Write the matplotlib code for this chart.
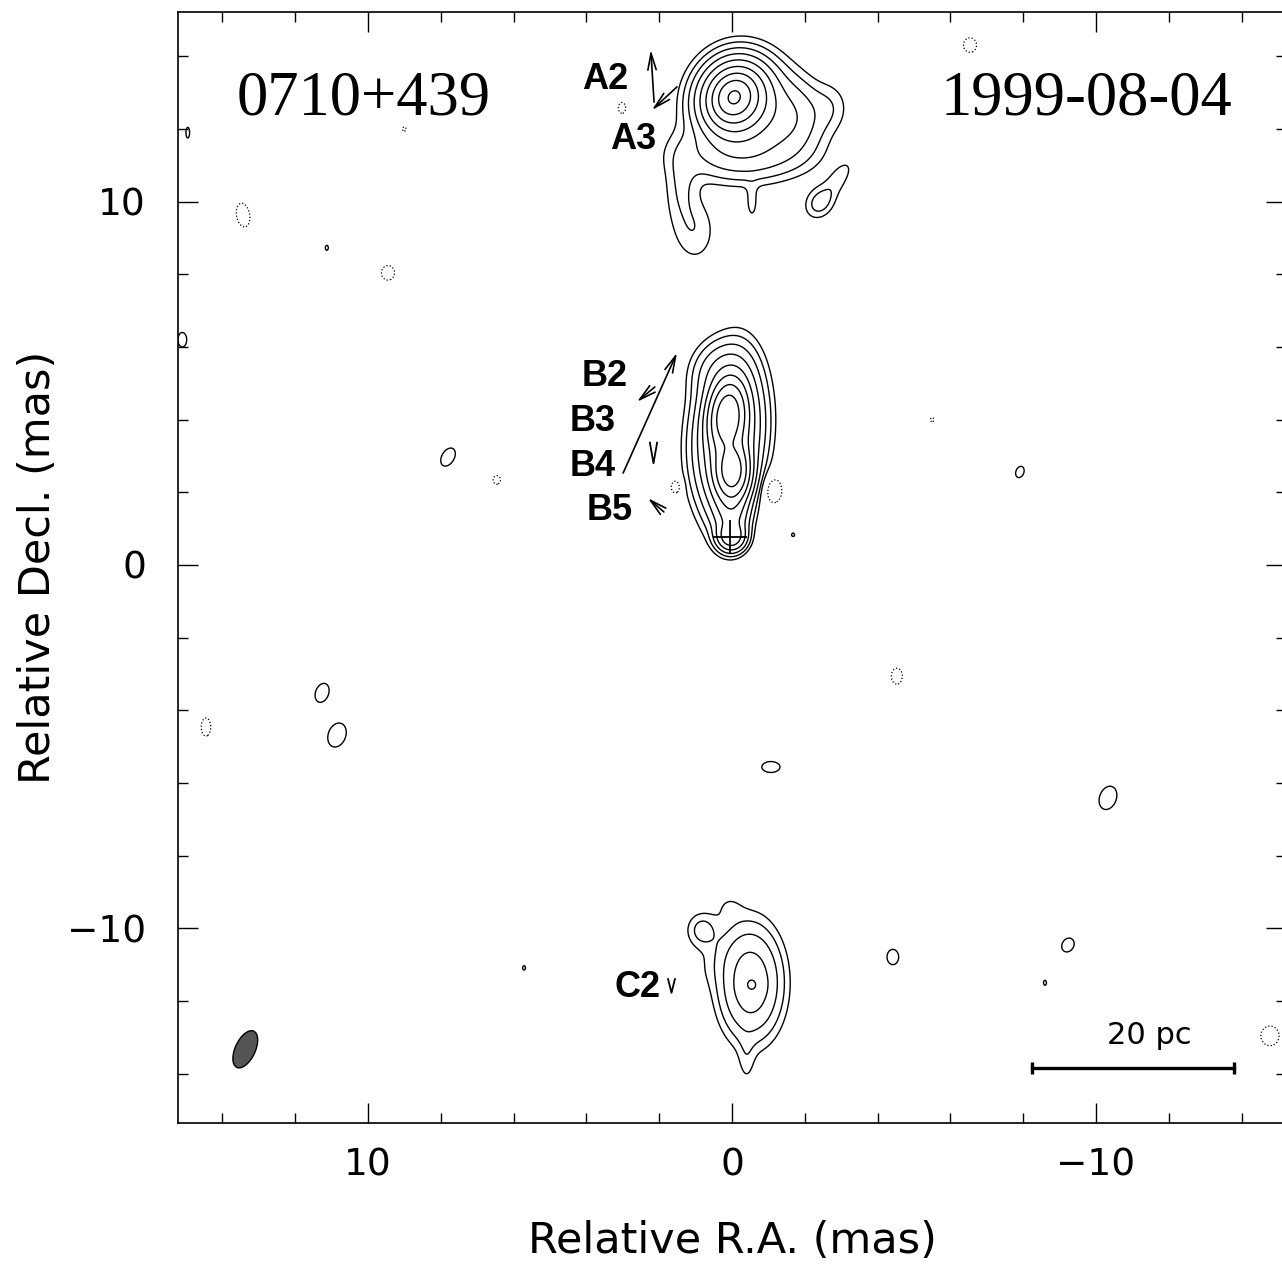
import numpy as np
import matplotlib
matplotlib.use('Agg')
import matplotlib.pyplot as plt
from matplotlib.patches import Ellipse
from matplotlib.ticker import MultipleLocator

# contour levels in % of the peak brightness
contour_levels = [0.35, 0.7, 1.4, 2.8, 5.6, 11.2, 22.4, 44.8, 89.6]
neg_level = -0.35

# brightness model, one gaussian per row:
# x (mas), y (mas), peak (%), sigma along PA, sigma across PA (mas), PA (deg)
comp_A = [(-0.05, 12.88, 58.0, 0.30, 0.26, -30),
          (-0.10, 12.85, 40.0, 0.50, 0.45, -20),
          (-0.30, 12.60, 5.0, 0.80, 0.75, 0),
          (-1.60, 12.30, 2.2, 0.60, 0.55, 0),
          (-2.70, 12.60, 0.5, 0.45, 0.35, 0),
          (-0.30, 11.30, 1.6, 1.10, 0.45, 90),
          (1.00, 9.20, 0.6, 0.60, 0.38, 0),
          (1.40, 10.40, 0.7, 0.75, 0.30, 0),
          (-0.55, 9.95, 0.45, 0.35, 0.12, 0),
          (-2.40, 9.97, 0.85, 0.30, 0.25, -35),
          (-2.88, 10.55, 0.50, 0.52, 0.20, -35)]

comp_B = [(0.12, 4.10, 68.0, 0.49, 0.25, -5),
          (0.00, 2.60, 62.0, 0.41, 0.24, 0),
          (0.05, 3.40, 10.0, 1.05, 0.35, -5),
          (0.10, 3.60, 9.0, 1.05, 0.50, -5),
          (0.30, 5.30, 2.0, 0.50, 0.45, -15),
          (0.02, 0.78, 8.0, 0.22, 0.22, 0),
          (0.00, 1.50, 6.0, 0.50, 0.26, 0)]

comp_C = [(-0.52, -11.50, 4.4, 0.86, 0.48, 0),
          (-0.55, -11.56, 1.6, 0.18, 0.18, 0),
          (0.82, -10.05, 0.90, 0.32, 0.28, 0),
          (0.35, -10.75, 0.30, 0.70, 0.40, -40),
          (-0.40, -13.60, 0.40, 0.50, 0.16, 0),
          (0.10, -9.40, 0.30, 0.30, 0.30, 0)]

# small noise islands: x, y, semi-axes of the lowest contour (mas), PA
noise_pos = [(7.80, 2.97, 0.27, 0.17, -30), (11.26, -3.52, 0.27, 0.18, -20),
             (10.85, -4.68, 0.34, 0.24, -20), (-1.07, -5.56, 0.25, 0.15, 90),
             (-10.33, -6.41, 0.33, 0.23, -20), (-4.42, -10.79, 0.21, 0.16, 0),
             (-9.23, -10.46, 0.20, 0.16, -30), (-7.91, 2.56, 0.16, 0.11, -20),
             (5.71, -11.09, 0.06, 0.04, 0), (-8.60, -11.50, 0.07, 0.04, 0),
             (11.13, 8.73, 0.07, 0.04, 0), (-1.68, 0.83, 0.05, 0.04, 0),
             (15.10, 6.20, 0.20, 0.12, 0), (14.95, 11.90, 0.15, 0.05, 0)]
noise_neg = [(13.43, 9.63, 0.33, 0.18, 10), (9.45, 8.04, 0.20, 0.18, 0),
             (6.46, 2.34, 0.12, 0.10, 0), (1.54, 2.15, 0.20, 0.14, 0),
             (-1.13, 2.06, 0.38, 0.25, 0), (-4.53, -3.06, 0.22, 0.15, 0),
             (14.45, -4.46, 0.25, 0.13, 0), (-14.78, -12.96, 0.27, 0.25, 0),
             (-6.54, 14.31, 0.20, 0.18, 0), (3.02, 12.58, 0.15, 0.10, 0),
             (9.00, 12.00, 0.06, 0.05, 0), (-5.50, 4.00, 0.06, 0.05, 0)]

# model-fit components: labels and their motion arrows (tail -> head)
labels = ['A2', 'A3', 'B2', 'B3', 'B4', 'B5', 'C2']
label_pos = [(3.49, 13.35), (2.72, 11.70), (3.49, 5.20), (3.82, 3.94),
             (3.82, 2.70), (3.35, 1.51), (2.58, -11.62)]
arrow_tail = [(2.14, 12.74), (1.51, 13.16), (2.99, 2.53), (2.12, 4.90),
              (1.87, 1.46)]
arrow_head = [(2.23, 14.18), (2.20, 12.52), (1.51, 5.84), (2.61, 4.49),
              (2.31, 1.84)]
# components with almost no motion: only an arrow head (pointing south)
vhead_pos = [(2.17, 3.11), (1.68, -11.56)]
vhead_size = [(0.35, 15.5), (0.5, 10.5)]   # width/height ratio, size (pt)

core_pos = (0.05, 0.77)
beam = (13.37, -13.33, 1.10, 0.55, -25)   # x, y, major, minor, PA
scalebar_x = [-8.23, -13.79]
scalebar_y = -13.85


def gauss(X, Y, x0, y0, amp, smaj, smin, pa):
    t = np.radians(pa)
    dx, dy = X - x0, Y - y0
    u = dx * np.sin(t) + dy * np.cos(t)
    v = dx * np.cos(t) - dy * np.sin(t)
    return amp * np.exp(-0.5 * (u / smaj) ** 2 - 0.5 * (v / smin) ** 2)


xs = np.linspace(-15.6, 15.6, 1041)
ys = np.linspace(-15.6, 15.6, 1041)
X, Y = np.meshgrid(xs, ys)
img = np.zeros_like(X)
for c in comp_A + comp_B + comp_C:
    img += gauss(X, Y, *c)
for (x0, y0, ra, rb, pa) in noise_pos:
    img += gauss(X, Y, x0, y0, 2 * contour_levels[0], ra / 1.1774, rb / 1.1774, pa)
for (x0, y0, ra, rb, pa) in noise_neg:
    img -= gauss(X, Y, x0, y0, 2 * contour_levels[0], ra / 1.1774, rb / 1.1774, pa)

fig = plt.figure(figsize=(12.82, 12.64), dpi=100)
ax = fig.add_axes([0.1388, 0.1118, 0.8643, 0.8787])

ax.contour(X, Y, img, levels=contour_levels, colors='black', linewidths=1.0)
ax.contour(X, Y, img, levels=[neg_level], colors='black', linewidths=0.9,
           linestyles=':')

ax.plot(*core_pos, marker='+', ms=25, mew=1.3, color='black')

for lab, lp in zip(labels, label_pos):
    ax.text(lp[0], lp[1], lab, fontsize=26, fontweight='bold',
            family='Liberation Sans', ha='center', va='center')
for t, h in zip(arrow_tail, arrow_head):
    ax.annotate('', xy=h, xytext=t,
                arrowprops=dict(arrowstyle='->,head_length=1.2,head_width=0.3',
                                lw=1.2, color='black', shrinkA=0, shrinkB=0))
for (vx, vy), (ratio, size) in zip(vhead_pos, vhead_size):
    ax.plot(vx, vy, marker=[(-ratio, 1), (0, -1), (ratio, 1)], ms=size,
            mfc='none', mec='black', mew=1.3, ls='none')

bx, by, bmaj, bmin, bpa = beam
ax.add_patch(Ellipse((bx, by), bmaj, bmin, angle=90 - bpa,
                     facecolor='#555555', edgecolor='black', lw=1.0))

ax.plot(scalebar_x, [scalebar_y, scalebar_y], color='black', lw=2.4)
ax.plot(scalebar_x, [scalebar_y, scalebar_y], ls='none', marker='|', ms=9,
        mew=2.4, color='black')
ax.text(-11.46, -12.94, '20 pc', fontsize=22, ha='center', va='center',
        family='DejaVu Sans')

ax.text(13.6, 12.8, '0710+439', fontsize=45, family='Liberation Serif',
        ha='left', va='center')
ax.text(-13.74, 12.8, '1999-08-04', fontsize=45, family='Liberation Serif',
        ha='right', va='center')

ax.set_xlim(15.22, -15.22)
ax.set_ylim(-15.35, 15.22)
ax.set_xticks([10, 0, -10])
ax.set_yticks([10, 0, -10])
ax.xaxis.set_minor_locator(MultipleLocator(2))
ax.yaxis.set_minor_locator(MultipleLocator(2))
ax.tick_params(which='both', direction='in', top=True, right=True, width=1.0,
               labelsize=27)
ax.tick_params(axis='x', pad=18)
ax.tick_params(axis='y', pad=23)
ax.tick_params(which='major', length=14.4)
ax.tick_params(which='minor', length=7.2)
for s in ax.spines.values():
    s.set_linewidth(1.2)

ax.set_xlabel('Relative R.A. (mas)', fontsize=31, labelpad=26)
ax.set_ylabel('Relative Decl. (mas)', fontsize=31, labelpad=6)

plt.savefig('out.png', dpi=100)
